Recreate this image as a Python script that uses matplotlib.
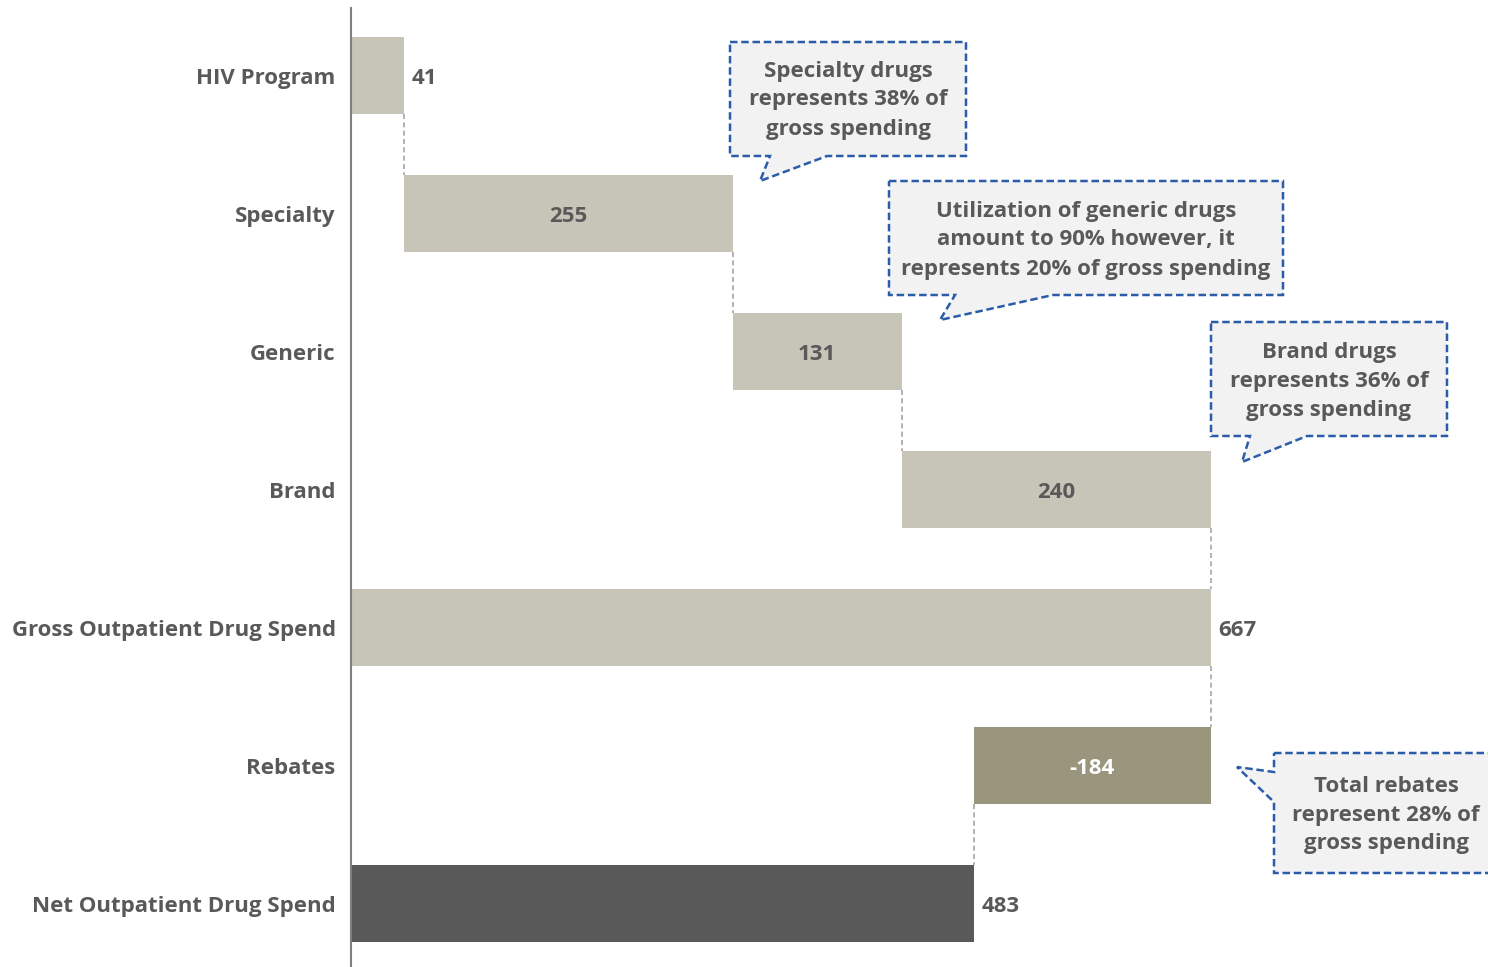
import matplotlib.pyplot as plt
from matplotlib.patches import Polygon

plt.rcParams['font.family'] = ['Open Sans', 'DejaVu Sans']

categories = ["HIV Program", "Specialty", "Generic", "Brand",
              "Gross Outpatient Drug Spend", "Rebates", "Net Outpatient Drug Spend"]
values = [41, 255, 131, 240, 667, -184, 483]
is_total = [False, False, False, False, True, False, True]

callout_texts = [
    "Specialty drugs\nrepresents 38% of\ngross spending",
    "Utilization of generic drugs\namount to 90% however, it\nrepresents 20% of gross spending",
    "Brand drugs\nrepresents 36% of\ngross spending",
    "Total rebates\nrepresent 28% of\ngross spending",
]

TEXT = "#595959"
LIGHT = "#C6C5B7"
REBATE = "#99967D"
NET = "#595959"
BLUE = "#2A5CAA"
FS = 16

W, H = 1488, 967
fig = plt.figure(figsize=(W / 100, H / 100), dpi=100)
ax = fig.add_axes([351 / W, 0, 1 - 351 / W, 1 - 8 / H])

bar_h = 0.56
lefts, widths, colors = [], [], []
run = 0
for v, tot in zip(values, is_total):
    if tot:
        lefts.append(0)
        widths.append(v)
        run = v
        colors.append(NET if v < 500 else LIGHT)
    else:
        if v >= 0:
            lefts.append(run)
            widths.append(v)
            colors.append(LIGHT)
        else:
            lefts.append(run + v)
            widths.append(-v)
            colors.append(REBATE)
        run += v

ys = list(range(len(categories)))
ax.barh(ys, widths, left=lefts, height=bar_h, color=colors, edgecolor='none')

# connectors
for i in range(len(values) - 1):
    if is_total[i + 1] and values[i] < 0:
        x = lefts[i]
    else:
        x = lefts[i] + widths[i]
    ax.plot([x, x], [i + bar_h / 2, i + 1 - bar_h / 2], color="#A6A6A6",
            lw=1.2, ls=(0, (3, 2)), zorder=0)

# value labels
for i, v in enumerate(values):
    if widths[i] > 100 and not is_total[i]:
        ax.text(lefts[i] + widths[i] / 2, i, str(v), ha='center', va='center_baseline',
                fontsize=FS, fontweight='bold',
                color='white' if v < 0 else TEXT)
    else:
        ax.text(lefts[i] + widths[i] + 6, i, str(v), ha='left', va='center_baseline',
                fontsize=FS, fontweight='bold', color=TEXT)

ax.set_xlim(0, 1137 / (860 / 667))
ax.set_ylim(6.46, -0.49)
ax.set_yticks(ys)
ax.set_yticklabels(categories, fontsize=FS, fontweight='bold', color=TEXT)
ax.tick_params(axis='y', length=0, pad=11)
ax.set_xticks([])
for s in ['top', 'right', 'bottom']:
    ax.spines[s].set_visible(False)
ax.spines['left'].set_color("#7F7F7F")
ax.spines['left'].set_linewidth(1.5)


def px(x, y):
    return (x / W, 1 - y / H)


callout_shapes = [
    [(730, 42), (966, 42), (966, 156), (827, 156), (760, 181), (770, 156), (730, 156)],
    [(889, 181), (1283, 181), (1283, 295), (1053, 295), (940, 320), (955, 295), (889, 295)],
    [(1211, 322), (1447, 322), (1447, 436), (1307, 436), (1242, 462), (1250, 436), (1211, 436)],
    [(1274, 753), (1492, 753), (1492, 873), (1274, 873), (1274, 802), (1237, 767), (1274, 772)],
]
text_centers = [(848, 100), (1086, 240), (1329, 381), (1386, 815)]

for shape, txt, (cx, cy) in zip(callout_shapes, callout_texts, text_centers):
    poly = Polygon([px(*p) for p in shape], closed=True, transform=fig.transFigure,
                   facecolor="#F2F2F2", edgecolor=BLUE, lw=1.8, ls=(0, (3, 1.5)),
                   clip_on=False)
    fig.patches.append(poly)
    fig.text(*px(cx, cy), txt, ha='center', va='center', fontsize=FS,
             fontweight='bold', color=TEXT, linespacing=1.5)

fig.savefig("out.png", dpi=100)
